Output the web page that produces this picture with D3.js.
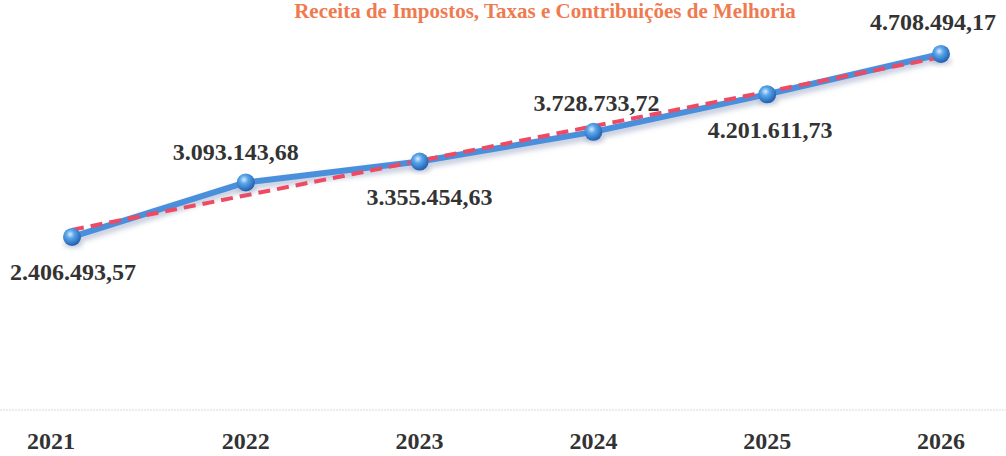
<!DOCTYPE html>
<html><head><meta charset="utf-8">
<script src="https://cdn.jsdelivr.net/npm/d3@7"></script>
<style>
html,body{margin:0;padding:0;background:#fff;}
svg{display:block;}
</style></head>
<body>
<svg id="chart" width="1006" height="456"></svg>
<script>
const title = "Receita de Impostos, Taxas e Contribuições de Melhoria";
const years = ["2021","2022","2023","2024","2025","2026"];
const values = [2406493.57, 3093143.68, 3355454.63, 3728733.72, 4201611.73, 4708494.17];
const labelTexts = ["2.406.493,57","3.093.143,68","3.355.454,63","3.728.733,72","4.201.611,73","4.708.494,17"];

const svg = d3.select("#chart");
const W = 1006, H = 456;

const x = d3.scalePoint().domain(years).range([72, 941]);
const y = d3.scaleLinear().domain([0, 5000000]).range([428.3, 30.8]);

const defs = svg.append("defs");
const grad = defs.append("radialGradient").attr("id","ball").attr("cx","40%").attr("cy","35%").attr("r","65%");
grad.append("stop").attr("offset","0%").attr("stop-color","#d6ecff");
grad.append("stop").attr("offset","35%").attr("stop-color","#5aa6ea");
grad.append("stop").attr("offset","100%").attr("stop-color","#1f5fb0");
const blur = defs.append("filter").attr("id","shadow").attr("x","-10%").attr("y","-30%").attr("width","120%").attr("height","160%");
blur.append("feGaussianBlur").attr("stdDeviation",2.5);

// title
svg.append("text").attr("x", 545).attr("y", 18).attr("text-anchor","middle")
  .attr("font-family","'Liberation Serif', 'DejaVu Serif', serif").attr("font-weight","bold")
  .attr("font-size", 21).attr("fill","#f07a4f").text(title);

// baseline
svg.append("line").attr("x1",0).attr("x2",W).attr("y1",410).attr("y2",410)
  .attr("stroke","#d9d9d9").attr("stroke-width",1).attr("stroke-dasharray","2,1");

// x axis labels
svg.append("g").selectAll("text").data(years).join("text")
  .attr("x", (d,i) => i === 0 ? x(d) - 21 : x(d))
  .attr("y", 449).attr("text-anchor","middle")
  .attr("font-family","'Liberation Serif', serif").attr("font-weight","bold")
  .attr("font-size", 24).attr("fill","#333")
  .text(d => d);

// line shadow + line
const line = d3.line().x((d,i)=>x(years[i])).y(d=>y(d));
svg.append("path").datum(values).attr("d", line).attr("fill","none")
  .attr("stroke","#8a96b8").attr("stroke-opacity",0.45).attr("stroke-width",8)
  .attr("transform","translate(0,4)").attr("filter","url(#shadow)");
svg.append("path").datum(values).attr("d", line).attr("fill","none")
  .attr("stroke","#4a8fdb").attr("stroke-width",6).attr("stroke-linejoin","round");

// trend line (least squares)
const xs = values.map((d,i)=>i);
const mx = d3.mean(xs), my = d3.mean(values);
const slope = d3.sum(xs.map((xi,i)=>(xi-mx)*(values[i]-my))) / d3.sum(xs.map(xi=>(xi-mx)**2));
const icpt = my - slope*mx;
svg.append("line")
  .attr("x1", x(years[0])).attr("y1", y(icpt))
  .attr("x2", x(years[years.length-1])).attr("y2", y(icpt + slope*(years.length-1)))
  .attr("stroke","#ee4a63").attr("stroke-width",4).attr("stroke-dasharray","12,7");

// markers
const g = svg.append("g");
g.selectAll("ellipse.sh").data(values).join("ellipse").attr("class","sh")
  .attr("cx",(d,i)=>x(years[i])+1).attr("cy",d=>y(d)+7).attr("rx",10).attr("ry",4)
  .attr("fill","#7a86a8").attr("opacity",0.4).attr("filter","url(#shadow)");
g.selectAll("circle").data(values).join("circle")
  .attr("cx",(d,i)=>x(years[i])).attr("cy",d=>y(d)).attr("r",9)
  .attr("fill","url(#ball)");

// value labels
svg.append("g").selectAll("text").data(values).join("text")
  .attr("text-anchor","middle")
  .attr("transform",(d,i)=>{
    const offs = [[1,43],[-10,-22],[10,43],[3,-21],[3,44],[-8,-24]][i];
    return `translate(${x(years[i])+offs[0]},${y(d)+offs[1]})`;
  })
  .attr("font-family","'Liberation Serif', serif").attr("font-weight","bold")
  .attr("font-size", 24).attr("fill","#333")
  .text((d,i)=>labelTexts[i]);
</script>
</body></html>
